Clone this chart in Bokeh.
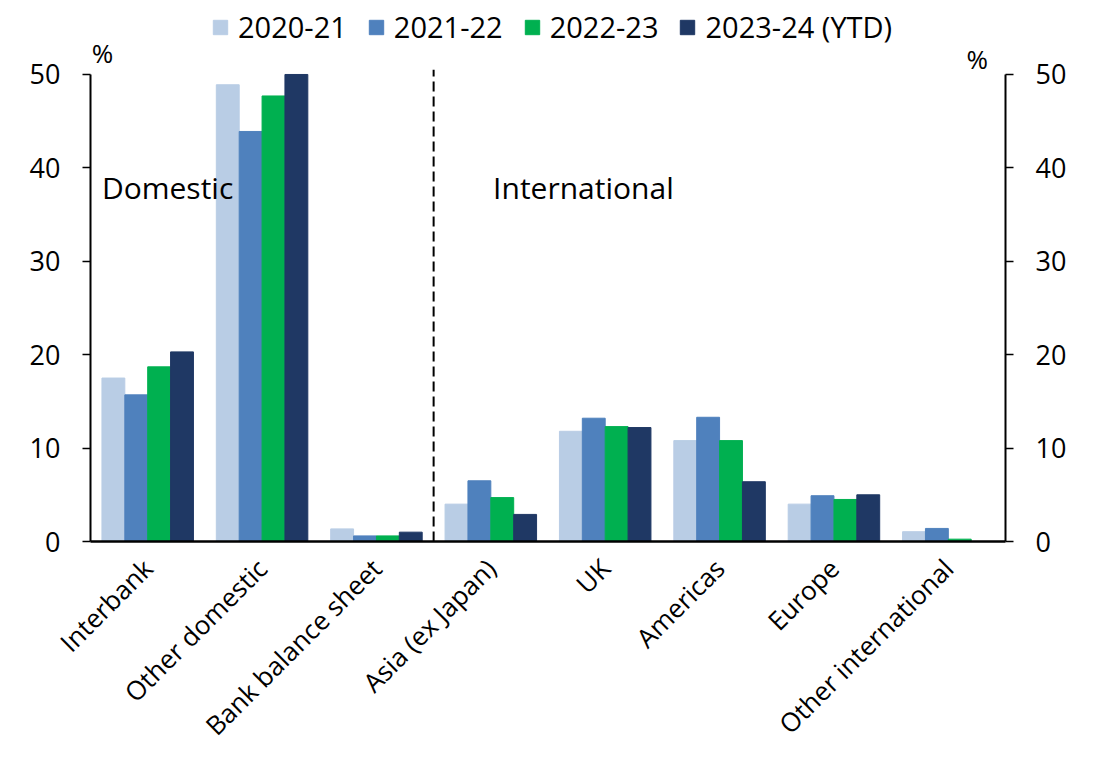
import math
from bokeh.plotting import figure
from bokeh.models import (ColumnDataSource, LinearAxis, FixedTicker, Label,
                          Legend, LegendItem, Range1d)
from bokeh.embed import file_html
from bokeh.resources import INLINE

categories = ["Interbank", "Other domestic", "Bank balance sheet", "Asia (ex Japan)",
              "UK", "Americas", "Europe", "Other international"]
series_names = ["2020-21", "2021-22", "2022-23", "2023-24 (YTD)"]
s2020_21 = [17.5, 48.9, 1.35, 4.0, 11.8, 10.8, 4.0, 1.05]
s2021_22 = [15.7, 43.9, 0.6, 6.5, 13.2, 13.3, 4.9, 1.4]
s2022_23 = [18.7, 47.7, 0.6, 4.7, 12.3, 10.8, 4.5, 0.25]
s2023_24 = [20.3, 50.0, 1.0, 2.9, 12.2, 6.4, 5.0, 0.0]
y_ticks = [0, 10, 20, 30, 40, 50]

colors = ["#B9CDE5", "#4F81BD", "#00B050", "#1F3864"]
all_series = [s2020_21, s2021_22, s2022_23, s2023_24]
offsets = [-0.3, -0.1, 0.1, 0.3]

FONT = "Open Sans"
TICK_FS = "27px"
CAT_FS = "26px"

Y_MAX = 50
Y_TOP = 57.92  # headroom above the axis for legend and % labels

p = figure(width=1078, height=760, output_backend="svg", toolbar_location=None,
           x_range=Range1d(0, len(categories)), y_range=Range1d(0, Y_TOP),
           min_border_left=90, min_border_right=73, min_border_top=0, min_border_bottom=219)
p.outline_line_color = None
p.grid.visible = False
p.background_fill_color = "white"

items = []
centers = [i + 0.5 for i in range(len(categories))]
for name, vals, col, off in zip(series_names, all_series, colors, offsets):
    src = ColumnDataSource(dict(x=[c + off for c in centers], top=vals))
    r = p.vbar(x="x", top="top", bottom=0, width=0.2, source=src,
               fill_color=col, line_color=col)
    items.append(LegendItem(label=name, renderers=[r]))


def style_y(ax):
    ax.ticker = FixedTicker(ticks=y_ticks)
    ax.bounds = (0, Y_MAX)
    ax.minor_tick_line_color = None
    ax.major_tick_in = 0
    ax.major_tick_out = 8
    ax.major_tick_line_color = "black"
    ax.major_tick_line_width = 1.5
    ax.axis_line_color = "black"
    ax.axis_line_width = 2
    ax.major_label_text_font = FONT
    ax.major_label_text_font_size = TICK_FS
    ax.major_label_text_color = "black"
    ax.major_label_standoff = 22


style_y(p.yaxis[0])
ra = LinearAxis()
style_y(ra)
p.add_layout(ra, "right")

# bottom axis
xa = p.xaxis[0]
xa.ticker = FixedTicker(ticks=centers)
xa.major_label_overrides = {c: n for c, n in zip(centers, categories)}
xa.minor_tick_line_color = None
xa.major_tick_line_color = None
xa.major_tick_in = 0
xa.major_tick_out = 0
xa.axis_line_color = "black"
xa.axis_line_width = 2.5
xa.major_label_orientation = math.pi / 4
xa.major_label_text_font = FONT
xa.major_label_text_font_size = CAT_FS
xa.major_label_text_color = "black"
xa.major_label_standoff = 22

# dashed divider between domestic and international
p.segment(x0=[3], y0=[0], x1=[3], y1=[50.5], line_color="black",
          line_dash="10 5", line_width=2)

# region labels
p.add_layout(Label(x=0.1, y=36.6, y_offset=12, text="Domestic", text_font=FONT,
                   text_font_size="30px", text_color="black",
                   text_baseline="alphabetic"))
p.add_layout(Label(x=3.52, y=36.6, y_offset=12, text="International", text_font=FONT,
                   text_font_size="30px", text_color="black",
                   text_baseline="alphabetic"))

# % labels
p.add_layout(Label(x=0.01, y=51.5, y_offset=7, text="%", text_font=FONT,
                   text_font_size="26px", text_color="black",
                   text_baseline="alphabetic"))
p.add_layout(Label(x=7.66, y=50.86, y_offset=7, text="%", text_font=FONT,
                   text_font_size="26px", text_color="black",
                   text_baseline="alphabetic"))

legend = Legend(items=items, orientation="horizontal", location=(121, 495),
                label_text_font=FONT, label_text_font_size="29px",
                label_text_color="black", glyph_width=18, glyph_height=18,
                spacing=20, label_standoff=9, border_line_color=None,
                background_fill_alpha=0, padding=0, margin=0)
p.add_layout(legend)

open("out.html", "w").write(file_html(p, INLINE))
